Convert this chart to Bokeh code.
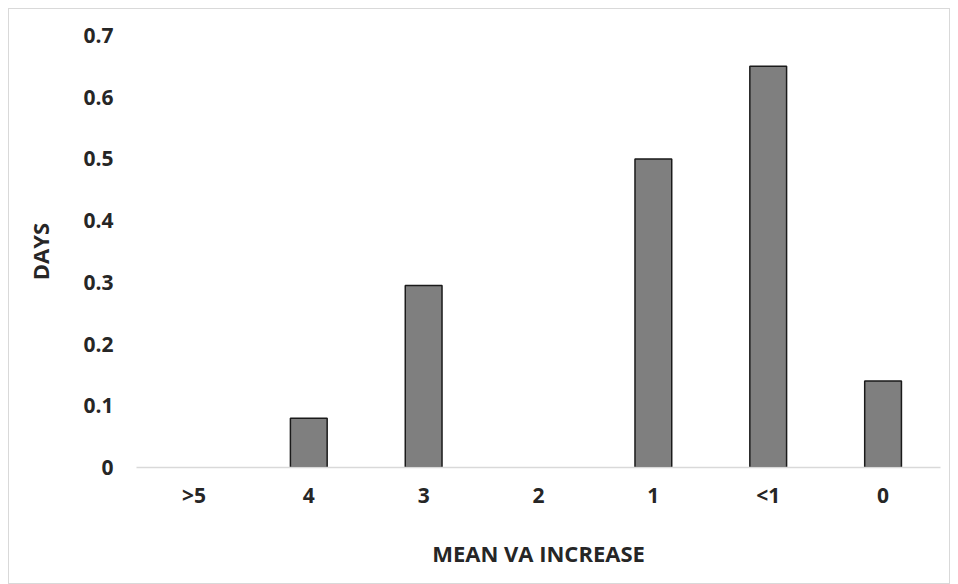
from bokeh.plotting import figure
from bokeh.models import Range1d, FixedTicker
from bokeh.embed import file_html
from bokeh.resources import INLINE

categories = [">5", "4", "3", "2", "1", "<1", "0"]
days = [0, 0.08, 0.295, 0, 0.5, 0.65, 0.14]
y_ticks = [0, 0.1, 0.2, 0.3, 0.4, 0.5, 0.6, 0.7]

FONT = "Open Sans"
TXT = "#262626"

p = figure(x_range=categories, y_range=Range1d(0, 0.7),
           width=942, height=576, output_backend="svg", toolbar_location=None,
           min_border_left=127, min_border_right=11, min_border_top=26, min_border_bottom=118)
p.styles = {"border": "1px solid #d9d9d9", "margin-left": "8px", "margin-top": "8px"}
p.outline_line_color = None
p.grid.visible = False

edge_alpha = [1.0 if v > 0 else 0.0 for v in days]
p.vbar(x=categories, top=days, width=0.32, fill_color="#7f7f7f",
       line_color="#1a1a1a", line_width=1.5, line_alpha=edge_alpha)

p.yaxis.ticker = FixedTicker(ticks=y_ticks)
p.yaxis.major_label_overrides = {0: "0"}
p.yaxis.axis_line_color = None
p.yaxis.major_tick_line_color = None
p.yaxis.minor_tick_line_color = None
p.yaxis.major_label_standoff = 17
p.yaxis.axis_label = "DAYS"
p.yaxis.axis_label_standoff = 25

p.xaxis.axis_line_color = "#d9d9d9"
p.xaxis.axis_line_width = 1.5
p.xaxis.major_tick_line_color = None
p.xaxis.minor_tick_line_color = None
p.xaxis.major_label_standoff = 7
p.xaxis.axis_label = "MEAN VA INCREASE"
p.xaxis.axis_label_standoff = 26

for ax in (p.xaxis, p.yaxis):
    ax.major_label_text_font = FONT
    ax.major_label_text_font_style = "bold"
    ax.major_label_text_font_size = "21px"
    ax.major_label_text_color = TXT
    ax.axis_label_text_font = FONT
    ax.axis_label_text_font_style = "bold"
    ax.axis_label_text_font_size = "22px"
    ax.axis_label_text_color = TXT

open("out.html", "w").write(file_html(p, INLINE))
